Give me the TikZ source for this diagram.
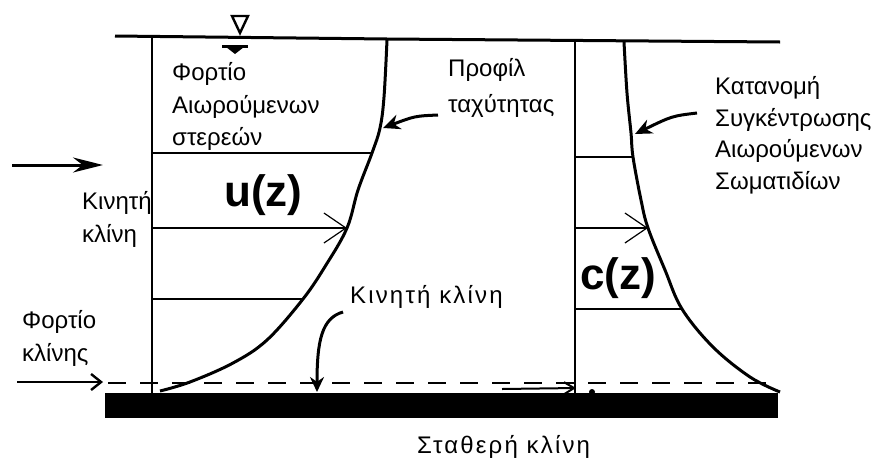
\documentclass[tikz,border=0pt]{standalone}
\usepackage{fontspec}
\setmainfont{Liberation Sans}
\newfontfamily\widefont[LetterSpace=9]{Liberation Sans}
\usetikzlibrary{arrows.meta}
\begin{document}
\begin{tikzpicture}[x=1pt,y=-1pt,
  lbl/.style={anchor=west,inner sep=0pt,font=\fontsize{24}{28}\selectfont},
  widelbl/.style={anchor=west,inner sep=0pt,font=\widefont\fontsize{24}{28}\selectfont},
  big/.style={anchor=west,inner sep=0pt,font=\fontsize{44}{48}\selectfont\bfseries},
  thinln/.style={line width=1.8pt},
  curveln/.style={line width=3pt},
  profarrow/.style={thinln,-{Straight Barb[length=22pt,width=30pt,line width=1.2pt]}},
  callout/.style={line width=3pt,-{Stealth[length=17pt,width=15pt]}},
  bedline/.style={line width=2.6pt,dash pattern=on 18pt off 14pt}]
\useasboundingbox (0,0) rectangle (877,461);
% water surface
\coordinate (s1) at (115,36);
\coordinate (s2) at (780,42);
\draw[line width=3pt] (s1) -- (387,39) -- (s2);
% water level symbol
\draw[line width=2.4pt,line join=miter] (232,16) -- (248,16) -- (240,33) -- cycle;
\draw[line width=3pt] (222,46) -- (248,46);
\fill (226,47) -- (244,47) -- (235,54) -- cycle;
% bed
\fill (105,393) rectangle (778,418);
\draw[bedline] (108,383) -- (778,383);
% left vertical
\coordinate (l0) at (152,37);
\coordinate (lb) at (152,393);
\draw[thinln] (l0) -- (lb);
% velocity profile
\draw[curveln] plot[smooth,tension=0.6] coordinates {(387,40) (384,97) (380,128) (372,153) (358,190) (347,228) (326,265) (303,299) (267,340) (233,363) (190,382) (160,391)};
\coordinate (u1) at (372,153);
\coordinate (u2) at (347,228);
\coordinate (u3) at (303,299);
\draw[thinln] (152,153) -- (u1);
\draw[profarrow] (152,228) -- (u2);
\draw[thinln] (152,299) -- (u3);
% right vertical
\coordinate (r0) at (575,42);
\coordinate (rb) at (575,393);
\draw[thinln] (r0) -- (rb);
% concentration profile
\draw[curveln] plot[smooth,tension=0.6] coordinates {(624,42) (627,93) (631,133) (633,157) (641,200) (648,228) (665,270) (682,309) (713,347) (750,377) (780,392)};
\coordinate (c1) at (633,157);
\coordinate (c2) at (648,228);
\coordinate (c3) at (682,309);
\draw[thinln] (575,157) -- (c1);
\draw[profarrow] (575,228) -- (c2);
\draw[thinln] (575,309) -- (c3);
% labels
\node[lbl] (f1) at (172,74) {Φορτίο};
\node[lbl] (f2) at (172,107) {Αιωρούμενων};
\node[lbl] (f3) at (172,139) {στερεών};
\node[lbl] (p1) at (448,70) {Προφίλ};
\node[lbl] (p2) at (448,106) {ταχύτητας};
\node[lbl] (k1) at (715,88) {Κατανομή};
\node[lbl] (k2) at (715,120) {Συγκέντρωσης};
\node[lbl] (k3) at (715,151) {Αιωρούμενων};
\node[lbl] (k4) at (715,183) {Σωματιδίων};
\node[lbl] (m1) at (82,203) {Κινητή};
\node[lbl] (m2) at (82,236) {κλίνη};
\node[big] (uz) at (224,195) {u(z)};
\node[big] (cz) at (580,278) {c(z)};
\node[widelbl] (mb) at (350,297) {Κινητή κλίνη};
\node[lbl] (fb1) at (22,322) {Φορτίο};
\node[lbl] (fb2) at (22,355) {κλίνης};
\node[widelbl] (st) at (417,447) {Σταθερή κλίνη};
% arrows
\coordinate (a1s) at (438,115);
\coordinate (a1e) at (383,128);
\draw[callout] (a1s) .. controls (415,116) .. (a1e);
\coordinate (a2s) at (697,113);
\coordinate (a2e) at (635,134);
\draw[callout] (a2s) .. controls (672,116) .. (a2e);
\coordinate (a3s) at (343,312);
\coordinate (a3e) at (317,392);
\draw[line width=3pt,-{Stealth[length=15pt,width=14pt]}] (a3s) .. controls (322,318) and (317,340) .. (a3e);
\coordinate (a4s) at (12,165);
\coordinate (a4e) at (103,165);
\draw[line width=3pt,-{Stealth[length=30pt,width=15pt]}] (a4s) -- (a4e);
\coordinate (a5s) at (17,382);
\coordinate (a5e) at (103,382);
\draw[line width=2.6pt,-{Straight Barb[length=10pt,width=16pt,line width=2.4pt]}] (a5s) -- (a5e);
\coordinate (a6s) at (502,389);
\coordinate (a6e) at (576,388);
\draw[line width=2pt,-{Straight Barb[length=10pt,width=12pt,line width=2pt]}] (a6s) -- (a6e);
\fill (592,392) circle (3pt);
\end{tikzpicture}
\end{document}
